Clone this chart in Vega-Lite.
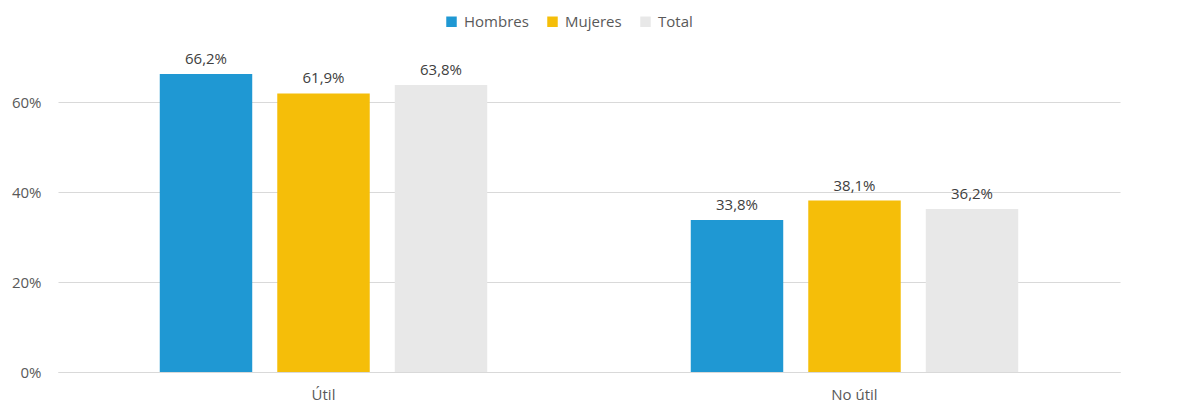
{
  "$schema": "https://vega.github.io/schema/vega-lite/v6.json",
  "width": 1062,
  "height": 315,
  "autosize": {"type": "none"},
  "padding": {"left": 58, "top": 57, "right": 60, "bottom": 45},
  "background": "white",
  "config": {
    "view": {"stroke": null},
    "font": "Open Sans",
    "locale": {"number": {"decimal": ",", "thousands": ".", "grouping": [3], "currency": ["", " €"]}},
    "axis": {"labelFont": "Open Sans", "labelFontSize": 15, "labelColor": "#595959", "ticks": false, "title": null}
  },
  "data": {
    "values": [
      {"respuesta": "Útil", "grupo": "Hombres", "valor": 0.662},
      {"respuesta": "Útil", "grupo": "Mujeres", "valor": 0.619},
      {"respuesta": "Útil", "grupo": "Total", "valor": 0.638},
      {"respuesta": "No útil", "grupo": "Hombres", "valor": 0.338},
      {"respuesta": "No útil", "grupo": "Mujeres", "valor": 0.381},
      {"respuesta": "No útil", "grupo": "Total", "valor": 0.362}
    ]
  },
  "encoding": {
    "x": {
      "field": "respuesta",
      "type": "nominal",
      "sort": ["Útil", "No útil"],
      "scale": {"paddingInner": 0, "paddingOuter": 0},
      "axis": {"labelAngle": 0, "domainColor": "#d9d9d9", "labelPadding": 15, "grid": false}
    },
    "xOffset": {
      "field": "grupo",
      "type": "nominal",
      "sort": ["Hombres", "Mujeres", "Total"],
      "scale": {"paddingInner": 0.213, "paddingOuter": 0.866}
    },
    "y": {
      "field": "valor",
      "type": "quantitative",
      "scale": {"domain": [0, 0.7], "nice": false},
      "axis": {"values": [0, 0.2, 0.4, 0.6], "format": ".0%", "domain": false, "gridColor": "#d9d9d9", "labelPadding": 17}
    }
  },
  "layer": [
    {
      "mark": {"type": "bar"},
      "encoding": {
        "color": {
          "field": "grupo",
          "type": "nominal",
          "sort": ["Hombres", "Mujeres", "Total"],
          "scale": {"domain": ["Hombres", "Mujeres", "Total"], "range": ["#1f98d3", "#f5be09", "#e8e8e8"]},
          "legend": {
            "title": null,
            "orient": "none",
            "direction": "horizontal",
            "legendX": 386,
            "legendY": -43,
            "symbolType": "square",
            "symbolSize": 110,
            "symbolStrokeWidth": 0,
            "labelFont": "Open Sans",
            "labelFontSize": 15,
            "labelColor": "#595959",
            "labelOffset": 5,
            "columnPadding": 16
          }
        }
      }
    },
    {
      "mark": {"type": "text", "baseline": "bottom", "dy": -7, "fontSize": 15, "color": "#404040", "font": "Open Sans"},
      "encoding": {
        "text": {"field": "valor", "type": "quantitative", "format": ".1%"}
      }
    }
  ]
}
